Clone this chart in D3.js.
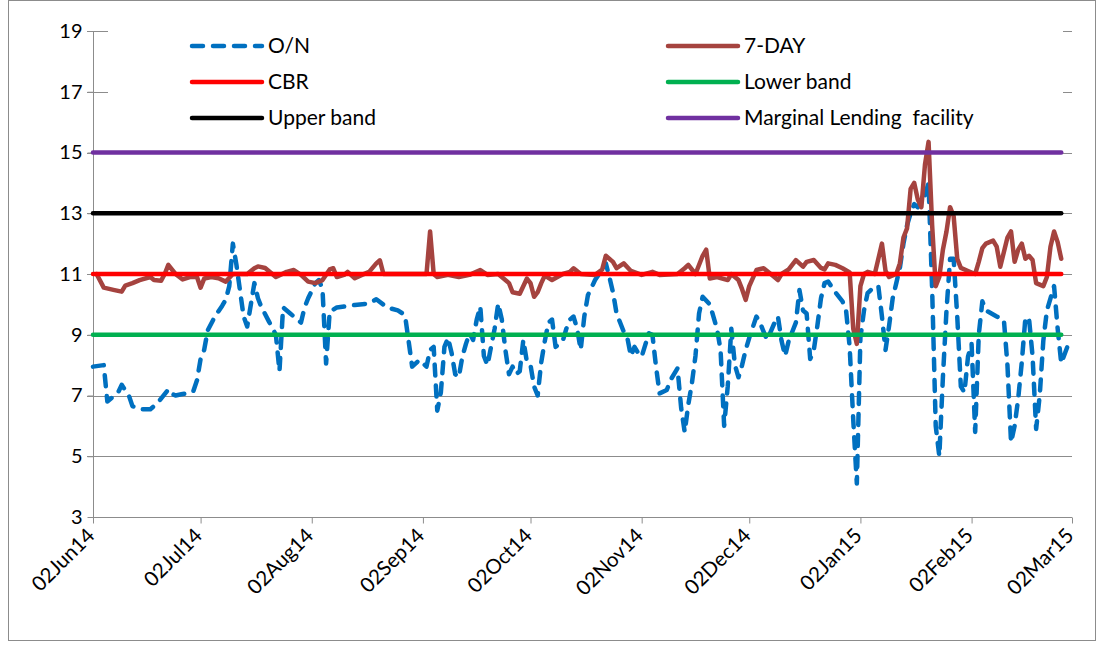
<!DOCTYPE html>
<html>
<head>
<meta charset="utf-8">
<script src="https://cdn.jsdelivr.net/npm/d3@7"></script>
<style>
  html, body { margin: 0; padding: 0; background: #ffffff; }
  svg { display: block; font-family: Lato, "Open Sans", sans-serif; }
</style>
</head>
<body>
<svg id="chart" width="1102" height="645"></svg>
<script>
// ---------------- DATA ----------------
const startDay = "2014-06-02";
const endDay = "2015-03-02";
const tickLabels = ["02Jun14","02Jul14","02Aug14","02Sep14","02Oct14","02Nov14","02Dec14","02Jan15","02Feb15","02Mar15"];
const yTicks = [3, 5, 7, 9, 11, 13, 15, 17, 19];

// O/N rate: day offset from 02Jun14, value (%)
const onDays = [
  0,3,4,6,7,8,10,11,13,16,
  18,21,22,23,25,27,28,29,30,31,
  32,34,36,37,38,39,40,42,43,45,
  46,47,49,51,52,53,55,56,58,59,
  60,62,63,64,65,66,68,73,77,79,
  82,85,87,88,89,91,93,94,95,96,
  97,98,99,100,101,102,103,104,105,106,
  107,108,109,110,111,112,113,114,115,116,
  117,118,119,120,121,122,123,124,125,126,
  127,128,129,131,132,133,134,135,136,137,
  138,140,142,143,144,145,146,148,149,150,
  151,152,153,155,156,157,158,160,161,163,
  164,165,166,167,168,169,170,172,174,175,
  176,177,178,179,180,181,182,183,185,186,
  187,188,190,191,192,193,194,195,196,197,
  198,199,200,201,202,203,204,205,207,209,
  210,211,212,213,214,215,216,218,219,220,
  221,222,223,224,225,226,227,228,229,230,
  232,233,234,235,236,237,238,239,240,241,
  242,243,244,245,246,247,248,249,252,254,
  255,256,257,258,259,260,261,262,263,264,
  265,266,267,268,269,270,272
];
const onValues = [
  7.95,8.0,6.8,7.0,7.1,7.35,7.0,6.65,6.55,6.55,
  6.75,7.2,7.05,7.0,7.05,7.08,7.15,7.5,8.2,8.5,
  9.15,9.6,9.95,10.15,10.6,12.0,11.3,9.6,9.27,10.7,
  10.2,9.9,9.45,9.0,7.8,9.9,9.7,9.6,9.4,9.9,
  10.2,10.7,10.8,10.5,8.05,9.75,9.9,9.98,10.03,10.17,
  9.9,9.8,9.65,8.8,7.95,8.17,7.95,8.5,8.6,6.5,
  7.1,8.6,8.9,8.4,7.7,7.6,8.28,8.7,9.05,8.83,
  9.5,9.93,8.3,8.0,8.6,9.2,10.03,9.5,8.5,7.7,
  7.95,7.7,7.8,8.83,8.1,8.0,7.3,7.0,8.1,8.8,
  9.4,9.5,8.6,8.8,9.2,9.5,9.6,9.2,8.5,9.6,
  10.3,10.8,11.15,11.35,10.9,10.4,9.7,9.1,8.9,8.3,
  8.6,8.4,8.28,9.05,9.0,7.95,7.07,7.18,7.5,7.9,
  6.6,5.8,6.7,7.4,8.3,9.7,10.25,10.0,9.2,8.5,
  6.0,7.3,9.2,8.0,7.6,8.0,8.5,8.9,9.6,9.4,
  9.1,8.83,9.38,9.6,8.8,8.3,8.8,9.1,9.4,10.47,
  9.8,9.7,8.2,8.5,9.3,10.2,10.7,10.75,10.4,10.1,
  9.8,8.6,6.2,4.1,8.9,9.8,10.37,10.6,10.6,9.6,
  8.5,9.3,10.2,10.7,11.2,12.0,12.6,13.0,13.3,13.2,
  13.6,14.0,10.5,6.0,5.0,7.6,9.8,11.5,11.5,9.6,
  7.3,7.1,8.28,8.7,5.8,9.0,10.1,9.8,9.6,9.5,
  8.0,5.45,6.0,6.9,8.1,9.55,9.55,8.3,5.9,7.0,
  8.8,9.8,10.2,10.6,9.2,8.06,8.7
];

// 7-DAY rate
const sevenDays = [
  1,3,6,8,9,11,13,16,17,19,
  20,21,23,25,27,29,30,31,33,35,
  37,39,41,43,45,46,48,51,54,56,
  58,60,62,64,66,67,68,70,71,73,
  75,77,79,80,81,85,89,93,94,95,
  96,99,102,105,108,110,113,116,117,119,
  121,122,123,124,125,126,128,131,133,134,
  136,140,142,143,145,146,148,150,153,156,
  158,163,165,166,168,170,171,172,174,177,
  178,180,181,182,183,185,187,189,191,192,
  194,196,198,199,201,203,204,205,207,209,
  211,212,213,214,215,216,218,219,220,221,
  222,224,225,226,227,228,229,230,231,232,
  233,234,235,236,237,238,239,240,241,242,
  244,246,247,248,249,251,252,253,255,256,
  257,258,259,260,261,262,263,265,266,267,
  268,269,270
];
const sevenValues = [
  11.0,10.55,10.47,10.42,10.62,10.7,10.8,10.9,10.8,10.78,
  11.0,11.3,11.0,10.82,10.9,10.9,10.55,10.85,10.9,10.86,
  10.75,11.0,11.0,11.0,11.19,11.25,11.2,10.9,11.07,11.13,
  10.97,10.75,10.7,10.8,11.15,11.19,10.9,10.97,11.07,10.86,
  10.97,11.07,11.35,11.45,11.0,11.0,11.0,11.0,12.4,11.0,
  10.9,10.97,10.9,10.97,11.13,10.97,11.0,10.7,10.4,10.35,
  10.85,10.7,10.25,10.4,10.7,10.95,10.8,11.0,11.07,11.19,
  11.0,10.97,11.15,11.6,11.4,11.19,11.35,11.1,10.97,11.07,
  10.97,11.0,11.19,11.3,11.0,11.6,11.8,10.85,10.9,10.8,
  11.0,10.8,10.5,10.15,10.6,11.13,11.19,11.0,10.8,11.0,
  11.15,11.46,11.24,11.4,11.46,11.2,11.15,11.35,11.3,11.19,
  11.05,9.2,8.7,10.6,11.0,11.07,11.0,11.5,12.0,11.1,
  10.9,11.0,11.35,12.2,12.5,13.8,14.0,13.45,13.2,14.6,
  15.35,12.6,10.6,10.9,11.8,12.4,13.2,12.9,11.5,11.2,
  11.1,11.0,11.4,11.85,12.0,12.1,11.9,11.24,12.2,12.4,
  11.4,11.8,12.0,11.5,11.6,11.46,10.7,10.6,10.9,11.9,
  12.4,12.05,11.5
];

// Policy corridor (constant over the period)
const bandDays = [0, 270];
const cbrRate = 11;
const lowerBand = 9;
const upperBand = 13;
const mlfRate = 15;

const legendNames = ["O/N", "7-DAY", "CBR", "Lower band", "Upper band", "Marginal Lending  facility"];
const seriesColors = ["#0070C0", "#A5433F", "#FF0000", "#00B050", "#000000", "#7030A0"];

// ---------------- CHART ----------------
const svg = d3.select("#chart");
const parseDay = d3.timeParse("%Y-%m-%d");
const parseTick = d3.timeParse("%d%b%y");
const t0 = parseDay(startDay);
const dayToDate = d => d3.timeDay.offset(t0, d);

const plot = { left: 93, right: 1072, top: 31, bottom: 517 };
const x = d3.scaleTime().domain([t0, parseDay(endDay)]).range([plot.left, plot.right]);
const y = d3.scaleLinear().domain([3, 19]).range([plot.bottom, plot.top]);

// chart-area border
svg.append("rect").attr("x", 8.5).attr("y", 0.5).attr("width", 1087).attr("height", 640)
  .attr("fill", "#fff").attr("stroke", "#8c8c8c").attr("stroke-width", 1);

// gridlines
svg.append("g").selectAll("line").data(yTicks.filter(v => v > 3)).join("line")
  .attr("x1", plot.left - 6).attr("x2", plot.right)
  .attr("y1", d => Math.round(y(d)) + 0.5).attr("y2", d => Math.round(y(d)) + 0.5)
  .attr("stroke", "#8c8c8c").attr("stroke-width", 1);

// y axis
const yAxis = d3.axisLeft(y).tickValues(yTicks).tickSize(6).tickPadding(5).tickFormat(d3.format("d"));
const gy = svg.append("g").attr("transform", `translate(${plot.left + 0.5},0)`).call(yAxis);
gy.select(".domain").attr("stroke", "#8c8c8c").attr("d", `M0,${plot.top}V${plot.bottom}`);
gy.selectAll(".tick line").attr("stroke", "#8c8c8c");
gy.selectAll(".tick text").attr("font-size", 20).attr("fill", "#000").attr("font-family", "Lato, sans-serif");

// x axis
const xTickDates = tickLabels.map(s => parseTick(s));
const xAxis = d3.axisBottom(x).tickValues(xTickDates).tickSize(6).tickFormat(d3.timeFormat("%d%b%y"));
const gx = svg.append("g").attr("transform", `translate(0,${Math.round(y(3)) + 0.5})`).call(xAxis);
gx.select(".domain").attr("stroke", "#8c8c8c").attr("d", `M${plot.left},0H${plot.right}`);
gx.selectAll(".tick line").attr("stroke", "#8c8c8c");
gx.selectAll(".tick text")
  .attr("font-size", 20.5).attr("fill", "#000").attr("font-family", "Lato, sans-serif")
  .attr("text-anchor", "end")
  .attr("dx", 0).attr("dy", 0)
  .attr("transform", "translate(-4,13) rotate(-45)");

// series
const line = d3.line().x(d => x(d.date)).y(d => y(d.v));
const onData = onDays.map((d, i) => ({ date: dayToDate(d), v: onValues[i] }));
const sevenData = sevenDays.map((d, i) => ({ date: dayToDate(d), v: sevenValues[i] }));
const flat = v => bandDays.map(d => ({ date: dayToDate(d), v }));

const series = [
  { data: onData, color: seriesColors[0], dash: "11,10" },
  { data: sevenData, color: seriesColors[1] },
  { data: flat(cbrRate), color: seriesColors[2] },
  { data: flat(lowerBand), color: seriesColors[3] },
  { data: flat(upperBand), color: seriesColors[4] },
  { data: flat(mlfRate), color: seriesColors[5] }
];

// legend box (white, covers top gridlines)
svg.append("rect").attr("x", 108).attr("y", 26).attr("width", 955).attr("height", 108).attr("fill", "#fff");

const gs = svg.append("g");
series.forEach(s => {
  gs.append("path").datum(s.data).attr("d", line)
    .attr("fill", "none").attr("stroke", s.color).attr("stroke-width", 4.5)
    .attr("stroke-linejoin", "round").attr("stroke-linecap", "round")
    .attr("stroke-dasharray", s.dash || null);
});

// legend
const legendPos = [
  { lx: 192, ly: 46 }, { lx: 668, ly: 46 },
  { lx: 192, ly: 82 }, { lx: 668, ly: 82 },
  { lx: 192, ly: 118 }, { lx: 668, ly: 118 }
];
const gl = svg.append("g");
legendNames.forEach((name, i) => {
  const p = legendPos[i];
  gl.append("line").attr("x1", p.lx).attr("x2", p.lx + 70).attr("y1", p.ly).attr("y2", p.ly)
    .attr("stroke", seriesColors[i]).attr("stroke-width", 4.5).attr("stroke-linecap", "round")
    .attr("stroke-dasharray", i === 0 ? "11,10" : null);
  gl.append("text").attr("x", p.lx + 76).attr("y", p.ly).attr("dy", "0.35em")
    .attr("font-size", 21).attr("fill", "#000").attr("font-family", "Lato, sans-serif")
    .attr("xml:space", "preserve").text(name);
});
</script>
</body>
</html>
